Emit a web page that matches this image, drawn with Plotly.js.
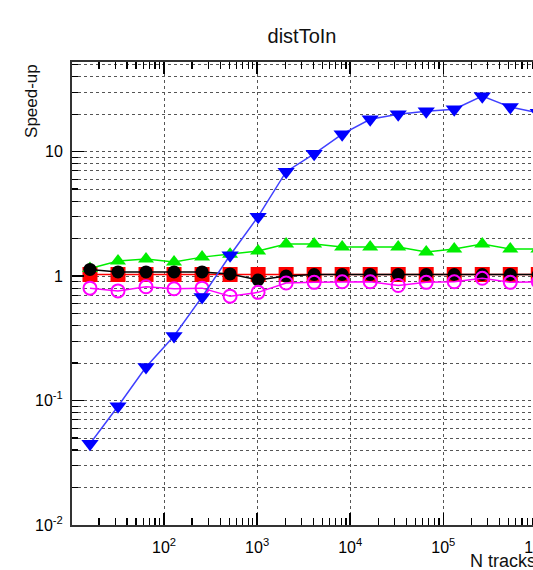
<!DOCTYPE html>
<html>
<head>
<meta charset="utf-8">
<script src="https://cdn.plot.ly/plotly-3.0.1.min.js"></script>
<style>
html,body{margin:0;padding:0;overflow:hidden;background:#fff;}
#chart{width:560px;height:570px;}
</style>
</head>
<body>
<div id="chart"></div>
<script>
// ---- data ----
const nTracks = [16,32,64,128,256,512,1024,2048,4096,8192,16384,32768,65536,131072,262144,524288,1048576];
const speedBlue    = [0.045,0.090,0.186,0.33,0.68,1.47,3.0,6.9,9.6,13.8,18.2,20.0,21.1,21.9,27.9,22.8,20.5];
const speedGreen   = [1.15,1.32,1.37,1.30,1.42,1.50,1.59,1.81,1.81,1.71,1.71,1.71,1.56,1.65,1.81,1.65,1.65];
const speedRed     = [1.03,1.03,1.03,1.03,1.03,1.03,1.03,1.03,1.03,1.03,1.03,1.03,1.03,1.03,1.03,1.03,1.03];
const speedBlack   = [1.13,1.08,1.08,1.08,1.08,1.04,0.93,1.0,1.03,1.03,1.03,1.03,1.03,1.03,1.03,1.03,1.03];
const speedMagenta = [0.80,0.76,0.82,0.79,0.80,0.69,0.74,0.88,0.89,0.90,0.90,0.84,0.89,0.90,0.96,0.89,0.90];

const xTickVals = [100,1000,10000,100000,1000000];
const xTickText = ['10<sup>2</sup>','10<sup>3</sup>','10<sup>4</sup>','10<sup>5</sup>','10<sup>6</sup>'];
const yTickVals = [0.01,0.1,1,10];
const yTickText = ['10<sup>-2</sup>','10<sup>-1</sup>','1','10'];

const titleText = 'distToIn';
const xTitle = 'N tracks';
const yTitle = 'Speed-up';

const FONT = 'Liberation Sans, Arial, Helvetica, sans-serif';

function series(y, color, symbol, size, lineColor, open) {
  return {
    x: nTracks, y: y, type: 'scatter', mode: 'lines+markers',
    line: {color: lineColor || color, width: 1.5},
    marker: open
      ? {symbol: symbol, size: size, color: color, line: {color: color, width: 2}}
      : {symbol: symbol, size: size, color: color, line: {width: 0}},
    showlegend: false, hoverinfo: 'x+y'
  };
}

const traces = [
  series(speedRed, '#ff0000', 'square', 15),
  series(speedGreen, '#00ee00', 'triangle-up', 14),
  series(speedBlack, '#000000', 'circle', 13),
  series(speedMagenta, '#ff00ff', 'circle-open', 13, '#ff00ff', true),
  series(speedBlue, '#0000ff', 'triangle-down', 15, '#4040ff')
];

const gridCol = '#555';

const layout = {
  width: 560, height: 570,
  margin: {l: 72, r: 5, t: 62, b: 45},
  paper_bgcolor: '#fff', plot_bgcolor: '#fff',
  font: {family: FONT, color: '#000', size: 15},
  title: {text: titleText, font: {family: FONT, size: 20, color: '#111'},
          x: 302/560, xref: 'container', xanchor: 'center', y: 1 - 36/570, yref: 'container', yanchor: 'middle'},
  xaxis: {
    type: 'log', range: [1.011, 6.2],
    tickvals: xTickVals, ticktext: xTickText,
    ticks: 'inside', ticklen: 12, tickcolor: '#000', tickwidth: 1.5,
    showline: true, linecolor: '#333', linewidth: 2, mirror: 'ticks',
    showgrid: true, gridcolor: gridCol, griddash: 'dot', gridwidth: 1,
    zeroline: false,
    tickfont: {family: FONT, size: 16},
    ticklabelstandoff: 7,
    minor: {dtick: 'D1', ticks: 'inside', ticklen: 7, tickcolor: '#000', tickwidth: 1.2, showgrid: false}
  },
  yaxis: {
    type: 'log', range: [-2, 1.72],
    tickvals: yTickVals, ticktext: yTickText,
    ticks: 'inside', ticklen: 12, tickcolor: '#000', tickwidth: 1.5,
    showline: true, linecolor: '#333', linewidth: 2, mirror: 'ticks',
    showgrid: true, gridcolor: gridCol, griddash: 'dot', gridwidth: 1,
    zeroline: false,
    tickfont: {family: FONT, size: 16},
    ticklabelstandoff: 4,
    minor: {dtick: 'D1', ticks: 'inside', ticklen: 6, tickcolor: '#000', tickwidth: 1.2,
            showgrid: true, gridcolor: gridCol, griddash: 'dot', gridwidth: 1}
  },
  annotations: [
    {text: yTitle, xref: 'paper', yref: 'paper', x: -0.085, y: 1.0,
     xanchor: 'center', yanchor: 'top', textangle: -90, showarrow: false,
     font: {family: FONT, size: 17, color: '#111'}},
    {text: xTitle, xref: 'paper', yref: 'paper', x: 0.82, y: -0.052,
     xanchor: 'left', yanchor: 'top', showarrow: false,
     font: {family: FONT, size: 18, color: '#111'}}
  ]
};

Plotly.newPlot('chart', traces, layout, {displayModeBar: false, staticPlot: true});
</script>
</body>
</html>
